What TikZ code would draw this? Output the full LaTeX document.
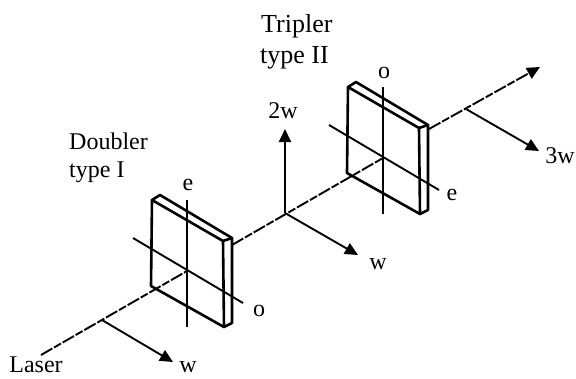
\documentclass[tikz,border=0pt]{standalone}
\usepackage{fontspec}
\setmainfont{Liberation Serif}
\usetikzlibrary{arrows.meta}

\begin{document}
\begin{tikzpicture}[
    x=1pt, y=-1pt,
    font=\fontsize{24}{28}\selectfont,
    >={Triangle[length=13pt,width=12pt]},
    crystal/.style = {line width=2.6pt, line join=round, line cap=round},
    axis/.style    = {line width=1.9pt},
    beam/.style    = {line width=1.9pt, dash pattern=on 13pt off 2pt on 8pt off 2pt},
    ray/.style     = {->, line width=1.9pt},
    tag/.style     = {inner sep=0pt, anchor=base},
    title/.style   = {inner sep=0pt, anchor=base west}
]
\useasboundingbox (0,0) rectangle (576,378);

% --- Beam points -------------------------------------------------------------
\coordinate (laser)  at (41,355);
\coordinate (branchA) at (102,320);
\coordinate (centerA) at (187,271);
\coordinate (exitA)  at (232,245);
\coordinate (branchB) at (285,213);
\coordinate (centerB) at (383,158);
\coordinate (exitB)  at (429,129);
\coordinate (branchC) at (466,109);
\coordinate (endC)   at (540,67);

% --- Crystals ----------------------------------------------------------------
\foreach \dx/\dy/\name in {0/0/A, 196/-113/B} {
  \begin{scope}[shift={(\dx,\dy)}]
    \draw[crystal] (151,286) -- (152,200) -- (160,195) -- (232,238)
                   -- (232,323) -- (224,327) -- cycle;
    \draw[crystal] (152,200) -- (223,241) -- (224,327);
    \draw[crystal] (223,241) -- (232,238);
    \draw[axis] (187,200) -- (187,327);
    \draw[axis] (133,238) -- (243,303);
  \end{scope}
}

% --- Beams -------------------------------------------------------------------
\draw[beam] (laser) -- (centerA);
\draw[beam] (exitA) -- (centerB);
\draw[beam, ->] (exitB) -- (endC);

% --- Labels ------------------------------------------------------------------
\node[title] (doubler)  at (69,149) {Doubler};
\node[title] (typeI)    at (69,177) {type I};
\node[title, font=\fontsize{26}{31}\selectfont] (tripler) at (261,32) {Tripler};
\node[title, font=\fontsize{26}{31}\selectfont] (typeII)  at (260,63) {type II};
\node[tag] (eA) at (188,190) {e};
\node[tag] (oA) at (259,316) {o};
\node[tag] (oB) at (384,78) {o};
\node[tag] (eB) at (452,200) {e};
\node[tag] (wA) at (188,372.5) {w};
\node[tag] (wB) at (378,269) {w};
\node[tag] (twow) at (283,118) {2w};
\node[tag] (threew) at (560,163) {3w};
\node[tag] (laserlabel) at (36,372.5) {Laser};

% --- Polarisation arrows -----------------------------------------------------
\coordinate (tipA) at (173,362);
\coordinate (tipB) at (358,255);
\coordinate (tipU) at (285,129);
\coordinate (tipC) at (539,151);
\draw[ray] (branchA) -- (tipA);
\draw[ray] (branchB) -- (tipB);
\draw[ray] (branchB) -- (tipU);
\draw[ray] (branchC) -- (tipC);

\end{tikzpicture}
\end{document}
